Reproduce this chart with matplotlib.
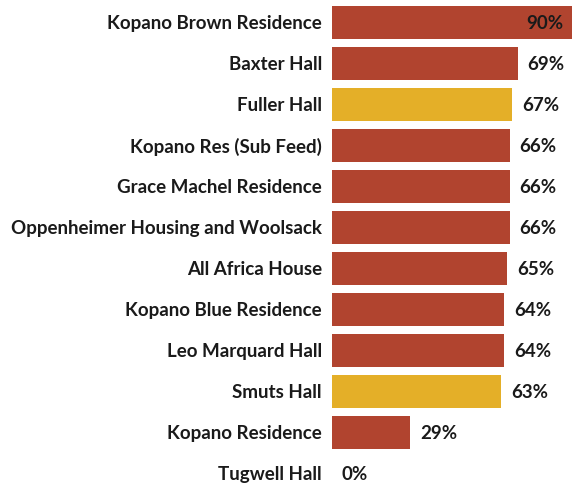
import matplotlib.pyplot as plt

# data
halls = ['Kopano Brown Residence', 'Baxter Hall', 'Fuller Hall', 'Kopano Res (Sub Feed)',
         'Grace Machel Residence', 'Oppenheimer Housing and Woolsack', 'All Africa House',
         'Kopano Blue Residence', 'Leo Marquard Hall', 'Smuts Hall', 'Kopano Residence',
         'Tugwell Hall']
values = [90, 69, 67, 66, 66, 66, 65, 64, 64, 63, 29, 0]
highlight = [False, False, True, False, False, False, False, False, False, True, False, False]

red = '#b1442f'
yellow = '#e4af28'
text_col = '#1a1a1a'
font_size = 13.5

plt.rcParams['font.family'] = ['Lato', 'DejaVu Sans']

fig = plt.figure(figsize=(5.72, 4.88), dpi=100)
ax = fig.add_axes([332 / 572, 0, 240 / 572, 1])

colors = [yellow if h else red for h in highlight]
ypos = list(range(len(halls)))
ax.barh(ypos, values, height=0.8, color=colors)

ax.set_xlim(0, 240 / 2.69)
top = -22.5 / 41
ax.set_ylim(top + 488 / 41, top)
ax.axis('off')

for y, name, v in zip(ypos, halls, values):
    ax.annotate(name, (0, y), xytext=(-7.2, -1), textcoords='offset points',
                ha='right', va='center', fontsize=font_size, fontweight='bold',
                color=text_col, annotation_clip=False)
    if v >= 85:
        ax.annotate(f'{v}%', (v, y), xytext=(-8, -1), textcoords='offset points',
                    ha='right', va='center', fontsize=font_size, fontweight='bold',
                    color=text_col, annotation_clip=False)
    else:
        ax.annotate(f'{v}%', (v, y), xytext=(7.2, -1), textcoords='offset points',
                    ha='left', va='center', fontsize=font_size, fontweight='bold',
                    color=text_col, annotation_clip=False)

fig.savefig('out.png', dpi=100)
plt.close()
